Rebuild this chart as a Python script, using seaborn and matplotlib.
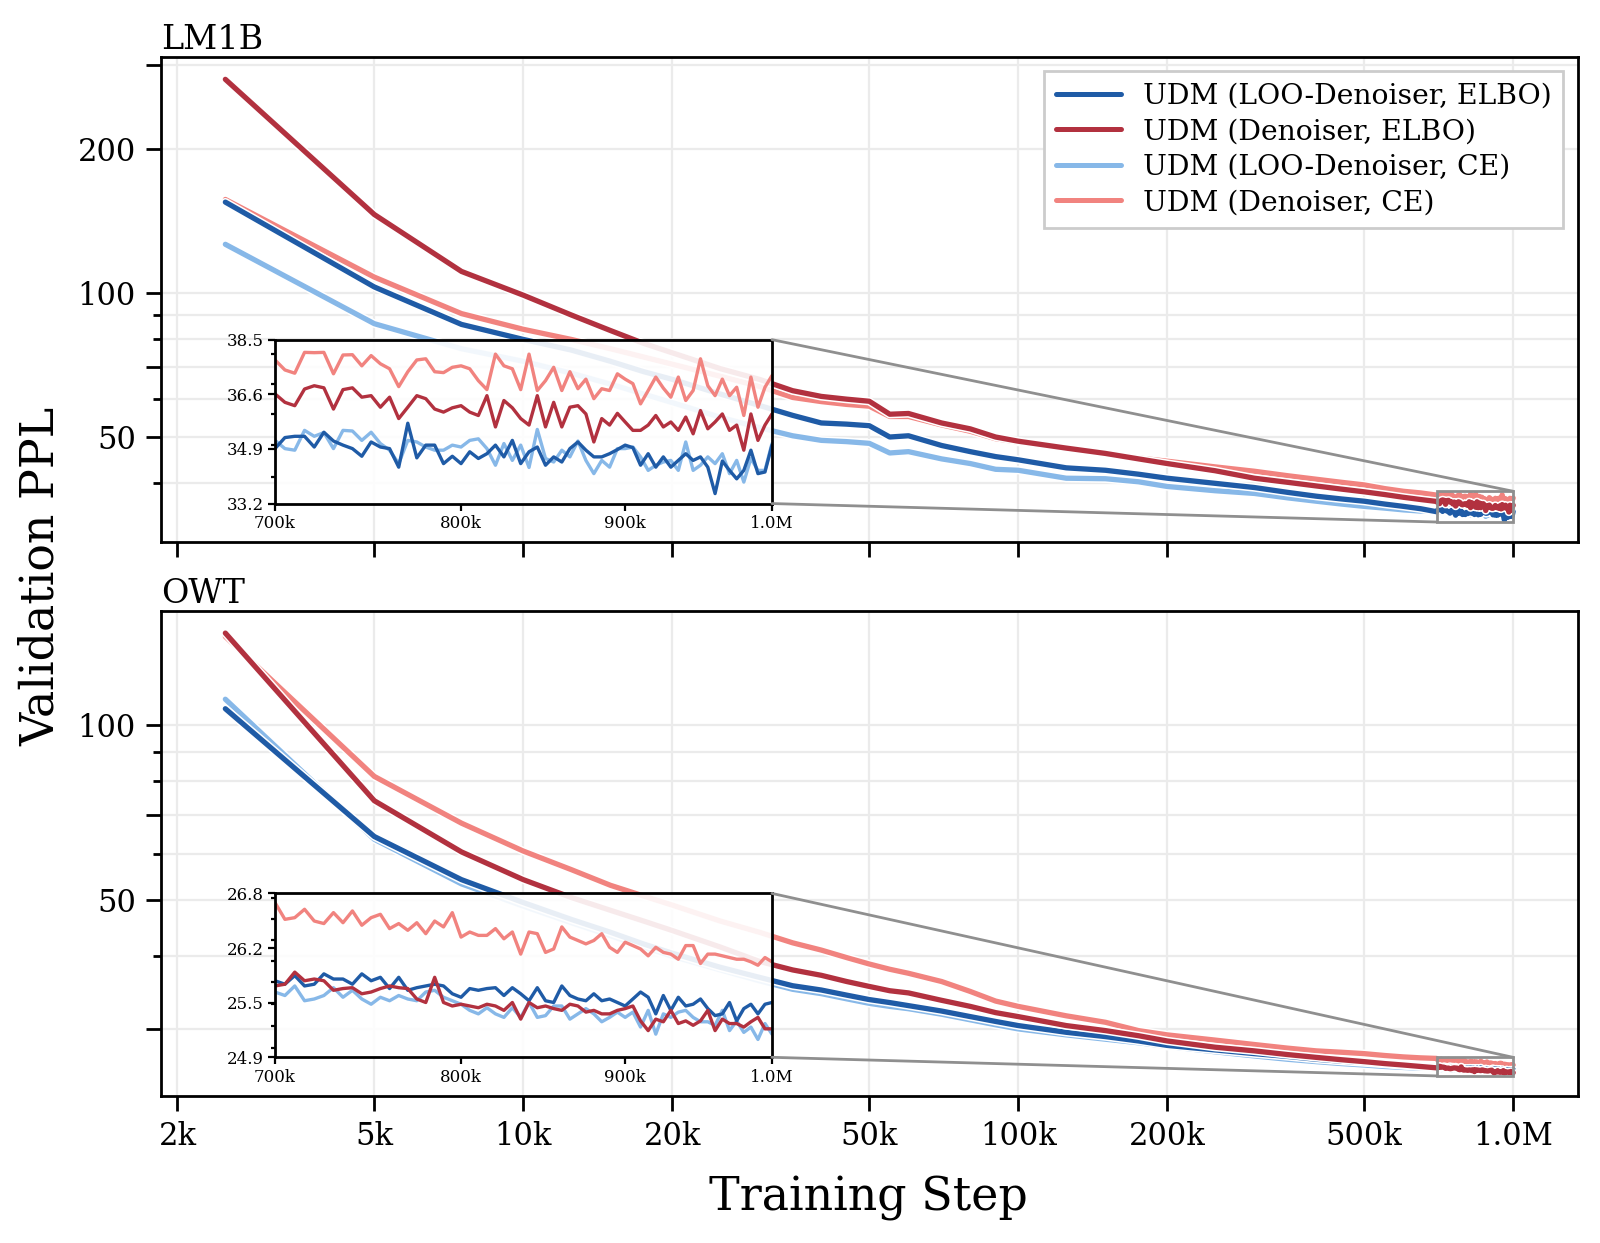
import numpy as np
import matplotlib
matplotlib.use("Agg")
import matplotlib.pyplot as plt
import matplotlib.ticker as mticker
import matplotlib.patheffects as pe
from matplotlib.lines import Line2D
from matplotlib.patches import Rectangle, ConnectionPatch
import seaborn as sns

sns.set_style("ticks")
plt.rcParams["font.family"] = ["DejaVu Serif"]
plt.rcParams["text.color"] = "black"
plt.rcParams["axes.labelcolor"] = "black"
plt.rcParams["xtick.color"] = "black"
plt.rcParams["ytick.color"] = "black"

labels = ["UDM (LOO-Denoiser, ELBO)", "UDM (Denoiser, ELBO)",
          "UDM (LOO-Denoiser, CE)", "UDM (Denoiser, CE)"]
colors = ["#1f5ba6", "#b2313f", "#87b8e8", "#f1837f"]

# checkpoints: coarse part of the run, then the zoomed window (every 5k)
steps_head = [2500, 5000, 7500, 10000, 12500, 15000, 17500, 20000, 25000, 30000, 35000,
              40000, 45000, 50000, 55000, 60000, 70000, 80000, 90000, 100000, 125000,
              150000, 175000, 200000, 250000, 300000, 350000, 400000, 450000, 500000,
              550000, 600000, 650000]
steps_tail = list(range(700000, 1000001, 5000))

# ---- LM1B ----
lm1b_loo_elbo_head = [155, 103, 86, 80, 76, 72, 68.5, 66, 61.5, 58.2, 55.5, 53.5, 53.2, 52.8,
                      50.0, 50.3, 48.0, 46.6, 45.5, 44.8, 43.1, 42.6, 41.8, 41.0, 40.0, 39.2,
                      38.3, 37.6, 37.1, 36.7, 36.2, 35.8, 35.4]
lm1b_den_elbo_head = [280, 146, 111, 99, 90, 83.5, 78.5, 75, 69.5, 66, 62.5, 60.8, 60.0, 59.4,
                      55.8, 56.0, 53.5, 52.0, 50.0, 49.0, 47.4, 46.2, 45.0, 44.0, 42.5, 41.0,
                      40.2, 39.5, 38.9, 38.4, 37.9, 37.4, 37.0]
lm1b_loo_ce_head = [126.5, 86.3, 76.5, 72, 68, 64.5, 61.5, 59, 55, 52.3, 50.3, 49.2, 48.9, 48.5,
                    46.3, 46.6, 45.0, 44.0, 42.8, 42.6, 41.0, 40.9, 40.3, 39.4, 38.6, 38.1,
                    37.3, 36.7, 36.2, 35.8, 35.5, 35.2, 35.0]
lm1b_den_ce_head = [157, 108, 90.6, 84, 80, 76.5, 73.5, 71, 67, 63.8, 60.5, 59.3, 58.5, 58.0,
                    55.2, 55.2, 53.0, 51.4, 49.6, 48.8, 47.3, 46.3, 45.2, 44.5, 43.3, 42.4,
                    41.5, 40.8, 40.2, 39.7, 39.0, 38.5, 38.2]

lm1b_den_ce_tail = [37.8, 37.46, 37.35, 38.06, 38.05, 38.06, 37.33, 37.97, 37.98, 37.6, 37.95,
                    37.67, 37.5, 36.9, 37.4, 37.8, 37.84, 37.4, 37.37, 37.55, 37.6,
                    37.5, 37.1, 36.8, 38.0, 37.6, 37.5, 36.8, 38.0, 36.77, 37.1,
                    37.55, 36.77, 37.4, 36.83, 37.15, 36.5, 36.83, 36.77, 37.33, 37.15,
                    37.0, 36.33, 36.77, 37.22, 36.85, 36.55, 37.22, 36.44, 36.77, 37.84,
                    36.93, 36.6, 37.15, 36.6, 36.88, 35.95, 37.22, 36.22, 36.88, 37.27]
lm1b_den_elbo_tail = [36.66, 36.38, 36.27, 36.82, 36.93, 36.86, 36.16, 36.8, 36.86, 36.55, 36.6,
                      36.22, 36.55, 35.85, 36.22, 36.6, 36.5, 36.16, 36.06, 36.2, 36.27,
                      36.06, 35.95, 36.6, 35.58, 36.44, 36.2, 35.85, 35.64, 36.6, 35.58,
                      36.38, 35.58, 36.22, 36.27, 36.0, 35.1, 35.85, 35.64, 36.02, 35.74,
                      35.47, 35.47, 35.64, 35.95, 35.58, 35.74, 35.47, 35.9, 35.36, 36.11,
                      35.52, 35.74, 36.0, 35.47, 35.64, 34.84, 36.0, 35.15, 35.64, 36.0]
lm1b_loo_elbo_tail = [34.89, 35.24, 35.28, 35.28, 34.94, 35.41, 35.13, 35.0, 34.89, 34.65, 35.1,
                      34.94, 34.89, 34.31, 35.7, 34.6, 35.0, 35.0, 34.42, 34.65, 34.42,
                      34.79, 34.58, 34.73, 35.0, 34.63, 35.15, 34.42, 34.79, 34.94, 34.37,
                      34.63, 34.47, 34.89, 35.1, 34.84, 34.63, 34.63, 34.73, 34.86, 35.0,
                      34.92, 34.37, 34.73, 34.31, 34.63, 34.31, 34.52, 34.73, 34.52, 34.63,
                      34.31, 33.5, 34.5, 34.21, 33.95, 34.21, 34.84, 34.11, 34.16, 35.0]
lm1b_loo_ce_tail = [35.15, 34.89, 34.84, 35.47, 35.28, 35.4, 34.89, 35.47, 35.45, 35.15, 35.41,
                    35.05, 34.84, 34.42, 35.15, 35.1, 34.94, 34.84, 34.84, 35.0, 34.94,
                    35.15, 35.2, 34.89, 34.37, 35.05, 34.52, 35.0, 34.3, 35.5, 34.58,
                    34.47, 34.84, 34.63, 35.13, 34.52, 34.11, 34.52, 34.31, 34.89, 34.89,
                    34.94, 34.63, 34.21, 34.37, 34.47, 34.52, 34.21, 35.1, 34.21, 34.37,
                    34.63, 34.42, 34.73, 34.11, 34.52, 33.85, 34.58, 34.21, 34.21, 35.05]

# ---- OWT ----
owt_loo_elbo_head = [106.7, 64.3, 54.2, 49.5, 46.3, 44.0, 42.0, 40.5, 38.3, 36.8, 35.6, 35.0,
                     34.3, 33.7, 33.3, 32.9, 32.2, 31.5, 30.9, 30.4, 29.6, 29.1, 28.6, 28.1,
                     27.6, 27.2, 26.9, 26.6, 26.4, 26.25, 26.1, 25.95, 25.85]
owt_den_elbo_head = [144, 74.1, 60.5, 54.2, 50.5, 48.0, 46.0, 44.3, 41.5, 39.2, 37.9, 37.1,
                     36.2, 35.5, 34.9, 34.6, 33.6, 32.8, 32.0, 31.5, 30.4, 29.8, 29.2, 28.6,
                     27.9, 27.5, 27.1, 26.8, 26.55, 26.35, 26.15, 26.0, 25.85]
owt_loo_ce_head = [110.8, 63.6, 53.3, 48.8, 45.7, 43.4, 41.5, 40.0, 37.9, 36.3, 35.1, 34.5,
                   33.8, 33.2, 32.8, 32.5, 31.8, 31.1, 30.5, 30.0, 29.3, 28.8, 28.4, 28.0,
                   27.4, 26.95, 26.6, 26.35, 26.15, 26.0, 25.85, 25.75, 25.68]
owt_den_ce_head = [142, 81.6, 67.8, 60.7, 56.4, 53.0, 50.8, 49.0, 46.0, 44.0, 42.2, 41.0,
                   39.8, 38.8, 38.0, 37.4, 36.2, 34.8, 33.5, 32.8, 31.6, 30.8, 29.8, 29.3,
                   28.7, 28.2, 27.8, 27.5, 27.35, 27.2, 27.0, 26.85, 26.75]

owt_den_ce_tail = [26.69, 26.49, 26.51, 26.61, 26.47, 26.44, 26.57, 26.45, 26.59, 26.42, 26.51,
                   26.55, 26.38, 26.44, 26.36, 26.45, 26.32, 26.47, 26.40, 26.57, 26.28,
                   26.34, 26.30, 26.30, 26.38, 26.26, 26.34, 26.08, 26.34, 26.32, 26.10,
                   26.14, 26.40, 26.28, 26.24, 26.20, 26.24, 26.32, 26.16, 26.10, 26.22,
                   26.18, 26.14, 26.06, 26.16, 26.10, 26.08, 26.02, 26.18, 26.18, 25.97,
                   26.08, 26.08, 26.06, 26.04, 26.02, 26.02, 25.99, 25.95, 26.04, 25.99]
owt_loo_elbo_tail = [25.77, 25.73, 25.83, 25.71, 25.73, 25.85, 25.79, 25.79, 25.73, 25.85, 25.77,
                     25.81, 25.68, 25.81, 25.66, 25.69, 25.71, 25.73, 25.71, 25.62, 25.58,
                     25.68, 25.66, 25.68, 25.69, 25.60, 25.69, 25.62, 25.54, 25.69, 25.54,
                     25.52, 25.71, 25.60, 25.56, 25.54, 25.62, 25.54, 25.56, 25.52, 25.48,
                     25.56, 25.64, 25.58, 25.39, 25.60, 25.43, 25.58, 25.48, 25.50, 25.56,
                     25.45, 25.37, 25.39, 25.52, 25.31, 25.45, 25.50, 25.39, 25.50, 25.52]
owt_den_elbo_tail = [25.71, 25.73, 25.87, 25.77, 25.79, 25.77, 25.66, 25.68, 25.69, 25.62, 25.64,
                     25.68, 25.71, 25.69, 25.68, 25.56, 25.52, 25.81, 25.52, 25.48, 25.50,
                     25.48, 25.46, 25.50, 25.48, 25.43, 25.52, 25.33, 25.52, 25.46, 25.48,
                     25.45, 25.43, 25.50, 25.48, 25.41, 25.43, 25.39, 25.39, 25.43, 25.45,
                     25.48, 25.31, 25.20, 25.33, 25.30, 25.43, 25.28, 25.31, 25.26, 25.31,
                     25.43, 25.20, 25.33, 25.28, 25.28, 25.24, 25.30, 25.35, 25.22, 25.22]
owt_loo_ce_tail = [25.64, 25.60, 25.71, 25.54, 25.56, 25.60, 25.69, 25.58, 25.66, 25.56, 25.50,
                   25.58, 25.54, 25.60, 25.56, 25.54, 25.64, 25.66, 25.58, 25.54, 25.50,
                   25.43, 25.39, 25.46, 25.39, 25.35, 25.46, 25.35, 25.52, 25.35, 25.37,
                   25.48, 25.48, 25.33, 25.39, 25.45, 25.39, 25.30, 25.35, 25.41, 25.35,
                   25.41, 25.24, 25.43, 25.16, 25.39, 25.35, 25.41, 25.43, 25.35, 25.30,
                   25.30, 25.26, 25.43, 25.20, 25.31, 25.18, 25.24, 25.10, 25.28, 25.16]

x_ticks = [2e3, 5e3, 1e4, 2e4, 5e4, 1e5, 2e5, 5e5, 1e6]
x_labels = ["2k", "5k", "10k", "20k", "50k", "100k", "200k", "500k", "1.0M"]
y_major = [30, 50, 70, 100, 200, 300]
y_labels = {50: "50", 100: "100", 200: "200"}
y_minor = [40, 60, 80, 90]
zoom_x = (7e5, 1e6)

halo = [pe.Stroke(linewidth=3.0, foreground="white"), pe.Normal()]
draw_order = [2, 3, 0, 1]  # CE runs below the ELBO runs
box_grey = "#8f8f8f"


def panel(ax, heads, tails, title, zoom_lim):
    for i in draw_order:
        sns.lineplot(x=steps_head + steps_tail, y=heads[i] + tails[i], ax=ax,
                     color=colors[i], lw=1.9, path_effects=halo, legend=False)
    ax.set_xscale("log")
    ax.set_yscale("log")
    ax.xaxis.set_major_locator(mticker.FixedLocator(x_ticks))
    ax.xaxis.set_major_formatter(mticker.FixedFormatter(x_labels))
    ax.xaxis.set_minor_locator(mticker.NullLocator())
    ax.yaxis.set_major_locator(mticker.FixedLocator(y_major))
    ax.yaxis.set_major_formatter(mticker.FuncFormatter(lambda v, p: y_labels.get(int(round(v)), "")))
    ax.yaxis.set_minor_locator(mticker.FixedLocator(y_minor))
    ax.yaxis.set_minor_formatter(mticker.NullFormatter())
    ax.grid(True, which="both", axis="y", color="#ebebeb", lw=0.8)
    ax.grid(True, which="major", axis="x", color="#ebebeb", lw=0.8)
    ax.set_axisbelow(True)
    ax.tick_params(which="major", length=5.5, width=1.0, labelsize=11)
    ax.tick_params(which="minor", length=3.0, width=1.0)
    for s in ax.spines.values():
        s.set_color("black")
        s.set_linewidth(1.0)
    ax.set_xlabel("")
    ax.set_ylabel("")
    ax.set_title(title, loc="left", fontsize=12, pad=3)

    axins = ax.inset_axes([0.0805, 0.0797, 0.3508, 0.338])
    axins.patch.set_facecolor((1, 1, 1, 0.9))
    for i in draw_order:
        sns.lineplot(x=steps_tail, y=tails[i], ax=axins, color=colors[i], lw=1.2, legend=False)
    axins.set_xscale("log")
    axins.set_yscale("log")
    axins.set_xlim(*zoom_x)
    axins.set_ylim(*zoom_lim)
    axins.xaxis.set_major_locator(mticker.FixedLocator([7e5, 8e5, 9e5, 1e6]))
    axins.xaxis.set_major_formatter(mticker.FixedFormatter(["700k", "800k", "900k", "1.0M"]))
    axins.xaxis.set_minor_locator(mticker.NullLocator())
    zt = np.geomspace(zoom_lim[0], zoom_lim[1], 4)
    axins.yaxis.set_major_locator(mticker.FixedLocator(zt))
    axins.yaxis.set_major_formatter(mticker.FixedFormatter([f"{v:.1f}" for v in zt]))
    axins.yaxis.set_minor_formatter(mticker.NullFormatter())
    axins.tick_params(which="major", length=2.6, width=0.8, labelsize=6, pad=1.5)
    axins.tick_params(which="minor", length=1.5, width=0.8)
    axins.set_xlabel("")
    axins.set_ylabel("")
    for s in axins.spines.values():
        s.set_color("black")
        s.set_linewidth(1.0)

    # zoom window on the main axes and the two guide lines to the inset
    lo, hi = zoom_lim
    ax.add_patch(Rectangle((zoom_x[0], lo), zoom_x[1] - zoom_x[0], hi - lo, fill=False,
                           edgecolor=box_grey, lw=1.0, zorder=5))
    for ins_corner, main_corner in [((1, 1), (zoom_x[1], hi)), ((1, 0), (zoom_x[0], lo))]:
        con = ConnectionPatch(xyA=ins_corner, coordsA=axins.transAxes,
                              xyB=main_corner, coordsB=ax.transData,
                              color=box_grey, lw=1.0, zorder=5)
        ax.figure.add_artist(con)


fig, (ax1, ax2) = plt.subplots(2, 1, figsize=(8, 6.215), dpi=200, sharex=True)
fig.subplots_adjust(left=0.1006, right=0.986, top=0.9539, bottom=0.1183, hspace=0.142)

panel(ax1,
      [lm1b_loo_elbo_head, lm1b_den_elbo_head, lm1b_loo_ce_head, lm1b_den_ce_head],
      [lm1b_loo_elbo_tail, lm1b_den_elbo_tail, lm1b_loo_ce_tail, lm1b_den_ce_tail],
      "LM1B", (33.2, 38.5))
panel(ax2,
      [owt_loo_elbo_head, owt_den_elbo_head, owt_loo_ce_head, owt_den_ce_head],
      [owt_loo_elbo_tail, owt_den_elbo_tail, owt_loo_ce_tail, owt_den_ce_tail],
      "OWT", (24.9, 26.8))
ax1.tick_params(labelbottom=False)

handles = [Line2D([], [], color=c, lw=1.8) for c in colors]
ax1.legend(handles, labels, loc="upper right", fontsize=10.2, frameon=True, fancybox=False,
           edgecolor="#cccccc", framealpha=1.0, handlelength=2.3, handletextpad=0.8,
           labelspacing=0.3)

fig.text(0.0255, 0.536, "Validation PPL", rotation=90, ha="center", va="center", fontsize=16.5)
fig.text(0.543, 0.036, "Training Step", ha="center", va="center", fontsize=16.5)

fig.savefig("out.png", dpi=200)
